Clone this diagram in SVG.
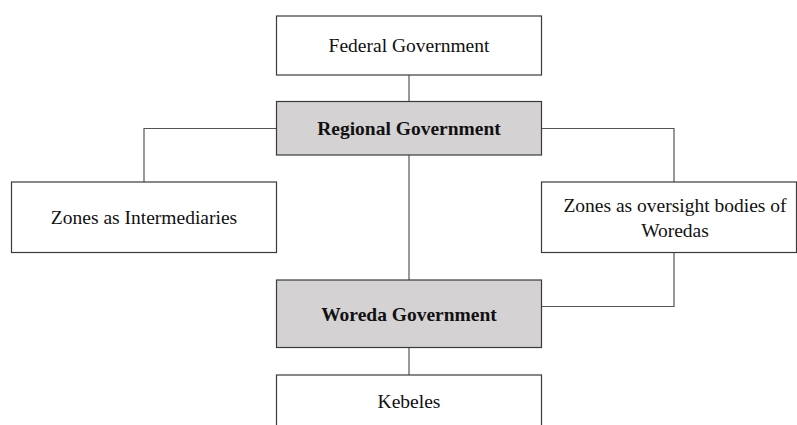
<svg xmlns="http://www.w3.org/2000/svg" width="797" height="425" viewBox="0 0 797 425">
<style>
.box{fill:#ffffff;stroke:#3a3a3a;stroke-width:1.2}
.gray{fill:#d4d2d3;stroke:#3a3a3a;stroke-width:1.2}
.conn{fill:none;stroke:#555555;stroke-width:1.2}
.t{font-family:'Liberation Serif','Times New Roman',Tinos,'DejaVu Serif',serif;font-size:19.5px;fill:#111111;text-anchor:middle}
.b{font-weight:bold}
</style>
<rect width="797" height="425" fill="#ffffff"/>
<g id="connectors">
<path class="conn" d="M409,75 V101"/>
<path class="conn" d="M277,128.5 H144 V182"/>
<path class="conn" d="M541,128.5 H674 V182"/>
<path class="conn" d="M409,155 V280"/>
<path class="conn" d="M674,252.5 V306.5 H541"/>
<path class="conn" d="M409,347.5 V375"/>
</g>
<g id="federal">
<rect class="box" x="276.5" y="16" width="265" height="59"/>
<text class="t" x="409" y="52" font-family="Liberation Serif">Federal Government</text>
</g>
<g id="regional">
<rect class="gray" x="276.5" y="101.5" width="265" height="53.5"/>
<text class="t b" x="409" y="135" font-family="Liberation Serif">Regional Government</text>
</g>
<g id="zones-intermediaries">
<rect class="box" x="11.5" y="182" width="265" height="70.5"/>
<text class="t" x="144" y="224" font-family="Liberation Serif">Zones as Intermediaries</text>
</g>
<g id="zones-oversight">
<rect class="box" x="541.5" y="182" width="255" height="70.5"/>
<text class="t" x="675" y="211.5" font-family="Liberation Serif">Zones as oversight bodies of</text>
<text class="t" x="675" y="237" font-family="Liberation Serif">Woredas</text>
</g>
<g id="woreda">
<rect class="gray" x="276.5" y="280" width="265" height="67.5"/>
<text class="t b" x="409" y="320.5" font-family="Liberation Serif">Woreda Government</text>
</g>
<g id="kebeles">
<rect class="box" x="276.5" y="375" width="265" height="60"/>
<text class="t" x="409" y="408" font-family="Liberation Serif">Kebeles</text>
</g>
</svg>
